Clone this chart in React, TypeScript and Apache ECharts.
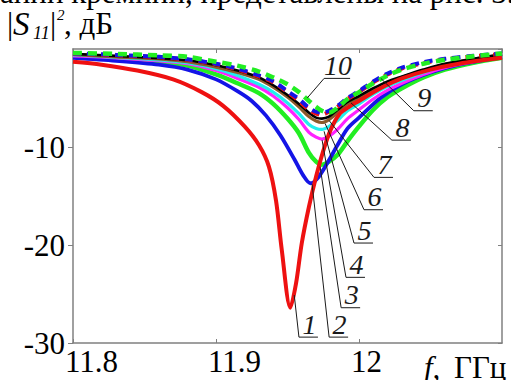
import React, { useEffect, useRef } from 'react';
import * as echarts from 'echarts';

// ---- axis ticks ----
const xTicks = [11.8, 11.9, 12, 12.1];
const yTicks = [-30, -20, -10, 0];

// ---- curve 1 (red, solid) ----
const freq1 = [11.8, 11.82, 11.845, 11.87, 11.89, 11.905, 11.92, 11.93, 11.937, 11.942, 11.946, 11.952, 11.956, 11.96, 11.965, 11.97, 11.975, 11.98, 11.986, 11.993, 12.0, 12.015, 12.03, 12.05, 12.07, 12.1];
const s1 = [-1.3, -1.6, -2.2, -3.1, -4.4, -5.8, -7.9, -9.8, -12.0, -15.5, -20.5, -26.4, -23.9, -19.8, -16.1, -13.0, -10.4, -8.3, -6.7, -5.9, -5.3, -4.0, -3.0, -2.1, -1.5, -0.9];

// ---- curve 2 (blue, solid) ----
const freq2 = [11.8, 11.83, 11.86, 11.88, 11.9, 11.915, 11.925, 11.935, 11.945, 11.955, 11.961, 11.966, 11.971, 11.978, 11.985, 11.992, 12.0, 12.015, 12.03, 12.05, 12.07, 12.1];
const s2 = [-0.9, -1.2, -1.6, -2.1, -3.1, -4.3, -5.3, -6.8, -8.8, -11.3, -12.9, -13.7, -13.2, -11.6, -9.8, -8.1, -7.0, -5.0, -3.6, -2.4, -1.6, -0.8];

// ---- curves 3..10 share one frequency grid ----
const freqC = [11.8, 11.83, 11.86, 11.88, 11.9, 11.915, 11.93, 11.94, 11.95, 11.958, 11.965, 11.97, 11.974, 11.979, 11.985, 11.992, 12.0, 12.01, 12.02, 12.03, 12.045, 12.06, 12.08, 12.1];
const s3 = [-0.8, -1.0, -1.3, -1.7, -2.6, -3.5, -4.5, -5.6, -7.1, -8.6, -10.6, -11.5, -11.8, -11.5, -10.8, -9.4, -7.9, -6.2, -4.9, -4.0, -2.9, -2.1, -1.4, -0.9];
const s4 = [-0.7, -0.9, -1.2, -1.5, -2.2, -3.0, -3.9, -4.8, -6.0, -7.2, -8.5, -9.0, -9.2, -8.9, -8.2, -7.1, -6.2, -5.1, -4.2, -3.5, -2.6, -1.9, -1.3, -0.8];
const s5 = [-0.6, -0.85, -1.1, -1.4, -2.0, -2.7, -3.6, -4.4, -5.5, -6.6, -7.7, -8.1, -8.2, -7.9, -7.3, -6.3, -5.6, -4.6, -3.8, -3.2, -2.4, -1.7, -1.15, -0.7];
const s6 = [-0.55, -0.8, -1.0, -1.3, -1.85, -2.4, -3.1, -3.9, -4.9, -5.9, -6.9, -7.35, -7.5, -7.2, -6.5, -5.6, -5.0, -4.2, -3.5, -2.9, -2.2, -1.6, -1.05, -0.6];
const s7 = [-0.5, -0.7, -0.95, -1.15, -1.65, -2.2, -2.9, -3.7, -4.7, -5.6, -6.5, -7.0, -7.1, -6.9, -6.2, -5.4, -4.8, -4.0, -3.3, -2.8, -2.1, -1.5, -1.0, -0.55];
const s8 = [-0.5, -0.65, -0.85, -1.1, -1.55, -2.1, -2.8, -3.4, -4.4, -5.3, -6.2, -6.6, -6.7, -6.4, -5.9, -5.1, -4.4, -3.4, -2.6, -2.0, -1.45, -1.05, -0.75, -0.5];
const s9 = [-0.45, -0.6, -0.8, -1.05, -1.5, -2.0, -2.7, -3.3, -4.3, -5.1, -6.0, -6.4, -6.5, -6.3, -5.8, -5.0, -4.3, -3.3, -2.5, -1.9, -1.35, -1.0, -0.7, -0.45];
const s10 = [-0.4, -0.5, -0.65, -0.8, -1.3, -1.7, -2.3, -2.9, -3.6, -4.4, -5.3, -5.9, -6.3, -6.5, -6.0, -5.1, -4.4, -3.5, -2.7, -2.1, -1.5, -1.1, -0.75, -0.45];

// ---- curve labels: name, underline start [f, dB], leader target [f, dB] ----
const labelNames = ['1', '2', '3', '4', '5', '6', '7', '8', '9', '10'];
const labelAt = [
  [11.958, -29.4], [11.9791, -29.4], [11.9875, -26.4], [11.9909, -23.3], [11.9965, -19.8],
  [12.0035, -16.4], [12.0105, -13.1], [12.023, -9.3], [12.0383, -6.3], [11.9756, -3.0],
];
const labelTo = [
  [11.9547, -25.1], [11.9672, -13.8], [11.9728, -12.0], [11.9742, -9.3], [11.9756, -8.4],
  [11.9763, -7.6], [11.9791, -7.3], [11.9944, -5.5], [12.0153, -3.0], [11.9638, -5.0],
];

const SERIF = 'Liberation Serif, Times New Roman, Tinos, serif';

const zip = (f: number[], v: number[]) => f.map((x, i) => [x, v[i]]);

function line(name: string, data: number[][], color: string, width: number, type: any = 'solid') {
  return {
    type: 'line', name, data, smooth: 0.3, showSymbol: false, symbol: 'none',
    lineStyle: { color, width, type, cap: 'butt' }, silent: true,
  };
}

export default function App() {
  const ref = useRef<HTMLDivElement>(null);
  useEffect(() => {
    document.body.style.margin = '0';
    const chart = echarts.init(ref.current!, null, { renderer: 'svg' });
    const axisColor = '#808080';
    const fmtX = (v: number) => (Math.abs(v - 12.1) < 1e-6 ? '' : String(+v.toFixed(1)));
    const option: any = {
      animation: false,
      backgroundColor: '#fff',
      grid: { left: 73, right: 9, top: 49, bottom: 37, containLabel: false },
      xAxis: [
        {
          type: 'value', min: xTicks[0], max: xTicks[xTicks.length - 1], interval: 0.1, position: 'bottom',
          axisLine: { show: true, onZero: false, lineStyle: { color: axisColor, width: 1.5 } },
          axisTick: { show: true, inside: true, length: 4, lineStyle: { color: axisColor, width: 1 } },
          axisLabel: { show: true, align: 'left', margin: 3, fontSize: 31, fontFamily: SERIF, color: '#000', formatter: fmtX, showMaxLabel: false, padding: [0, 0, 0, -8] },
          splitLine: { show: false },
        },
        {
          type: 'value', min: xTicks[0], max: xTicks[xTicks.length - 1], interval: 0.1, position: 'top',
          axisLine: { show: true, onZero: false, lineStyle: { color: axisColor, width: 1.5 } },
          axisTick: { show: true, inside: true, length: 4, lineStyle: { color: axisColor, width: 1 } },
          axisLabel: { show: false }, splitLine: { show: false },
        },
      ],
      yAxis: [
        {
          type: 'value', min: yTicks[0], max: yTicks[yTicks.length - 1], interval: 10, position: 'left',
          axisLine: { show: true, onZero: false, lineStyle: { color: axisColor, width: 1.5 } },
          axisTick: { show: true, inside: false, length: 5, lineStyle: { color: axisColor, width: 1 } },
          axisLabel: { show: true, margin: 8, fontSize: 31, fontFamily: SERIF, color: '#000', showMaxLabel: false, formatter: (v: number) => String(v) },
          splitLine: { show: false },
        },
        {
          type: 'value', min: yTicks[0], max: yTicks[yTicks.length - 1], interval: 10, position: 'right',
          axisLine: { show: true, onZero: false, lineStyle: { color: axisColor, width: 1.5 } },
          axisTick: { show: true, inside: true, length: 4, lineStyle: { color: axisColor, width: 1 } },
          axisLabel: { show: false }, splitLine: { show: false },
        },
      ],
      series: [
        line('3', zip(freqC, s3), '#22ee22', 4.5),
        line('2', zip(freq2, s2), '#1414e6', 3.8),
        line('4', zip(freqC, s4), '#ff22ff', 3.2),
        line('5', zip(freqC, s5), '#22eeee', 3.2),
        line('6', zip(freqC, s6), '#8b5a2b', 3.2),
        line('7', zip(freqC, s7), '#000000', 2.6),
        line('1', zip(freq1, s1), '#ee1111', 4),
        line('8', zip(freqC, s8), '#ee1111', 4, [8, 6]),
        line('9', zip(freqC, s9), '#1414e6', 4, [8, 6]),
        line('10', zip(freqC, s10), '#22ee22', 4.5, [9, 6]),
      ],
    };
    chart.setOption(option);

    const px = (p: number[]) => chart.convertToPixel({ xAxisIndex: 0, yAxisIndex: 0 }, p) as number[];
    const ink = '#1a1a1a';
    const graphics: any[] = [];
    labelNames.forEach((n, i) => {
      const [ux, uy] = px(labelAt[i]);
      const [tx, ty] = px(labelTo[i]);
      const w = n.length > 1 ? 26 : 19;
      graphics.push({ type: 'line', shape: { x1: ux, y1: uy, x2: tx, y2: ty }, style: { stroke: ink, lineWidth: 1 }, z: 100 });
      graphics.push({ type: 'line', shape: { x1: ux, y1: uy, x2: ux + w, y2: uy }, style: { stroke: ink, lineWidth: 1 }, z: 100 });
      graphics.push({
        type: 'text', x: ux + w / 2 + 1, y: uy + 1, z: 100,
        style: { text: n, fontStyle: 'italic', fontSize: 28, fontFamily: SERIF, fill: ink, textAlign: 'center', textVerticalAlign: 'bottom', align: 'center', verticalAlign: 'bottom' },
      });
    });
    const txt = (x: number, y: number, text: string, size: number, italic = false) => ({
      type: 'text', x, y, z: 100,
      style: { text, fontStyle: italic ? 'italic' : 'normal', fontSize: size, fontFamily: SERIF, fill: '#000', textAlign: 'left', textVerticalAlign: 'bottom', align: 'left', verticalAlign: 'bottom' },
    });
    // cut-off line of the surrounding document
    graphics.push(txt(0, 8, 'ании кремнии, представлены на рис. 3.', 31));
    // y-axis title |S11|^2, дБ
    graphics.push(txt(7, 39, '|', 31));
    graphics.push(txt(13, 40, 'S', 33, true));
    graphics.push(txt(33, 42, '11', 18, true));
    graphics.push(txt(50, 39, '|', 31));
    graphics.push(txt(57, 22, '2', 15, true));
    graphics.push(txt(64, 39, ', дБ', 31));
    // x-axis title f, ГГц
    graphics.push(txt(424, 383, 'f,', 31, true));
    graphics.push(txt(454, 383, 'ГГц', 31));
    chart.setOption({ graphic: graphics });
    return () => chart.dispose();
  }, []);
  return <div ref={ref} style={{ position: 'fixed', left: 0, top: 0, width: 511, height: 380 }} />;
}
